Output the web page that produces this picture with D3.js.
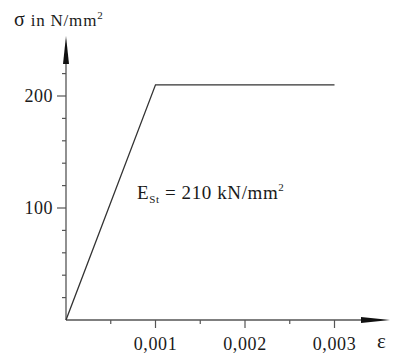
<!DOCTYPE html>
<html>
<head>
<meta charset="utf-8">
<script src="https://d3js.org/d3.v7.min.js"></script>
</head>
<body style="margin:0">
<svg width="394" height="354"></svg>
<script>
// stress-strain data for reinforcing steel (bilinear)
var strain = [0, 0.001, 0.003];
var stress = [0, 210, 210];

var xMajor = [0.001, 0.002, 0.003];
var xMajorLabels = ["0,001", "0,002", "0,003"];
var xMinor = [0.0005, 0.0015, 0.0025];
var yMajor = [100, 200];
var yMinor = [20, 40, 60, 80, 120, 140, 160, 180, 220];

var fontName = "Liberation Serif";

var svg = d3.select("svg");
var ox = 66, oy = 320;

var x = d3.scaleLinear().domain([0, 0.001]).range([ox, ox + 89.5]);
var y = d3.scaleLinear().domain([0, 100]).range([oy, oy - 112]);

var axisColor = "#555";
var textColor = "#1a1a1a";

// axes lines
svg.append("line")
    .attr("x1", ox).attr("y1", oy).attr("x2", 365).attr("y2", oy)
    .attr("stroke", axisColor).attr("stroke-width", 1.3);
svg.append("line")
    .attr("x1", ox).attr("y1", oy).attr("x2", ox).attr("y2", 60)
    .attr("stroke", axisColor).attr("stroke-width", 1.3);

// arrow heads
svg.append("path")
    .attr("d", "M361," + (oy - 3) + " L390," + oy + " L361," + (oy + 3) + " Z")
    .attr("fill", "#111");
svg.append("path")
    .attr("d", "M" + (ox - 3) + ",64 L" + ox + ",36 L" + (ox + 3) + ",64 Z")
    .attr("fill", "#111");

// x ticks
svg.selectAll(".xmaj").data(xMajor).enter().append("line")
    .attr("x1", function(d) { return x(d); }).attr("x2", function(d) { return x(d); })
    .attr("y1", oy).attr("y2", oy + 8)
    .attr("stroke", axisColor).attr("stroke-width", 1.2);
svg.selectAll(".xmin").data(xMinor).enter().append("line")
    .attr("x1", function(d) { return x(d); }).attr("x2", function(d) { return x(d); })
    .attr("y1", oy).attr("y2", oy + 4)
    .attr("stroke", axisColor).attr("stroke-width", 1.2);
svg.selectAll(".xlab").data(xMajor).enter().append("text")
    .attr("x", function(d) { return x(d); })
    .attr("y", 350)
    .attr("text-anchor", "middle")
    .style("font-family", fontName)
    .style("letter-spacing", "0.6px")
    .attr("font-size", 18)
    .attr("fill", textColor)
    .text(function(d, i) { return xMajorLabels[i]; });

// y ticks
svg.selectAll(".ymaj").data(yMajor).enter().append("line")
    .attr("x1", ox - 9).attr("x2", ox)
    .attr("y1", function(d) { return y(d); }).attr("y2", function(d) { return y(d); })
    .attr("stroke", axisColor).attr("stroke-width", 1.2);
svg.selectAll(".ymin").data(yMinor).enter().append("line")
    .attr("x1", ox - 4).attr("x2", ox)
    .attr("y1", function(d) { return y(d); }).attr("y2", function(d) { return y(d); })
    .attr("stroke", axisColor).attr("stroke-width", 1.2);
svg.selectAll(".ylab").data(yMajor).enter().append("text")
    .attr("x", 53)
    .attr("y", function(d) { return y(d) + 6; })
    .attr("text-anchor", "end")
    .style("font-family", fontName)
    .style("letter-spacing", "0.5px")
    .attr("font-size", 18)
    .attr("fill", textColor)
    .text(function(d) { return d; });

// curve
var line = d3.line()
    .x(function(d) { return x(d[0]); })
    .y(function(d) { return y(d[1]); });
svg.append("path")
    .datum(strain.map(function(s, i) { return [s, stress[i]]; }))
    .attr("d", line)
    .attr("fill", "none")
    .attr("stroke", "#333")
    .attr("stroke-width", 1.3);

// axis titles
var t = svg.append("text").attr("x", 14).attr("y", 26)
    .style("font-family", fontName).style("letter-spacing", "0.8px")
    .attr("font-size", 17).attr("fill", textColor);
t.append("tspan").attr("font-size", 20).text("σ");
t.append("tspan").text(" in N/mm");
t.append("tspan").attr("font-size", 11).attr("dy", -7).text("2");

svg.append("text").attr("x", 377).attr("y", 348)
    .style("font-family", fontName).attr("font-size", 21)
    .attr("fill", textColor).text("ε");

// modulus label
var e = svg.append("text").attr("x", 137).attr("y", 199)
    .style("font-family", fontName).style("letter-spacing", "0.6px")
    .attr("font-size", 19).attr("fill", textColor);
e.append("tspan").text("E");
e.append("tspan").attr("font-size", 11).attr("dy", 4).text("St");
e.append("tspan").attr("dy", -4).text(" = 210 kN/mm");
e.append("tspan").attr("font-size", 11).attr("dy", -8).text("2");
</script>
</body>
</html>
